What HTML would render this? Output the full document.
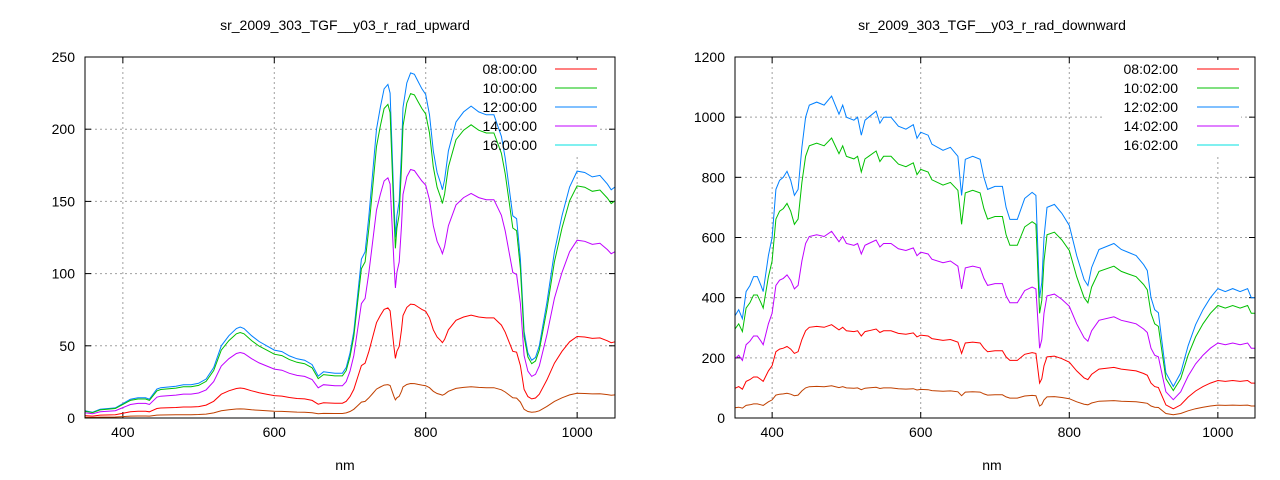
<!DOCTYPE html>
<html><head><meta charset="utf-8"><style>
body{margin:0;background:#fff}
svg{display:block;font-family:"Liberation Sans",sans-serif;font-size:14px}
</style></head><body>
<svg id="s" width="1280" height="480" xmlns="http://www.w3.org/2000/svg"></svg>
<script>
const s=document.getElementById('s');let h='';
function chart(o){
 const {x0,x1,y0,y1,ymax,ystep,title,cx,labs,key,lx,lt,scales}=o;
 const X=v=>x0+(v-350)*(x1-x0)/700, Y=v=>y1-v*(y1-y0)/ymax;
 h+=`<text x="${cx}" y="30" text-anchor="middle">${title}</text>`;
 h+=`<text x="${cx}" y="470" text-anchor="middle">nm</text>`;
 for(let v=0;v<=ymax;v+=ystep){const y=Y(v);
  if(v>0&&v<ymax)h+=`<line x1="${x0}" x2="${x1}" y1="${y}" y2="${y}" stroke="#a0a0a0" stroke-dasharray="2,3"/>`;
  h+=`<line x1="${x0}" x2="${x0+6}" y1="${y}" y2="${y}" stroke="#000"/><line x1="${x1-6}" x2="${x1}" y1="${y}" y2="${y}" stroke="#000"/>`;
  h+=`<text x="${x0-10}" y="${y+5}" text-anchor="end">${v}</text>`;}
 for(let v=400;v<=1000;v+=200){const x=X(v);
  h+=`<line x1="${x}" x2="${x}" y1="${y0}" y2="${y1}" stroke="#a0a0a0" stroke-dasharray="2,3"/>`;
  h+=`<line x1="${x}" x2="${x}" y1="${y1}" y2="${y1-6}" stroke="#000"/><line x1="${x}" x2="${x}" y1="${y0}" y2="${y0+6}" stroke="#000"/>`;
  h+=`<text x="${x}" y="${y1+19}" text-anchor="middle">${v}</text>`;}
 h+=`<rect x="${lt-75}" y="60" width="${lx+44-lt+75}" height="95" fill="#fff"/>`;
 const cols=[['#0080ff',1],['#00c000',scales[0]],['#c000ff',scales[1]],['#ff0000',scales[2]],['#c04000',scales[3]]];
 const lc=['#ff0000','#00c000','#0080ff','#c000ff','#00e0e0'];
 cols.forEach(([c,k])=>{let d='';labs.forEach((p,i)=>{d+=(i?'L':'M')+X(p[0]).toFixed(1)+','+Y(p[1]*k).toFixed(1)});
  h+=`<path d="${d}" fill="none" stroke="${c}" stroke-width="1"/>`;});
 key.forEach((t,i)=>{const y=69+i*19;
  h+=`<text x="${lt}" y="${y+5}" text-anchor="end">${t}</text><line x1="${lx}" x2="${lx+42}" y1="${y}" y2="${y}" stroke="${lc[i]}"/>`;});
 h+=`<rect x="${x0}" y="${y0}" width="${x1-x0}" height="${y1-y0}" fill="none" stroke="#000"/>`;
}
const L=[[350,5],[360,4],[370,6],[390,7],[400,10],[410,13],[420,14],[430,14],[435,13],[445,20],[450,21],[470,22],[480,23],[490,23],[500,24],[510,27],[520,35],[530,50],[540,57],[550,62],[555,63],[560,62],[570,57],[580,53],[590,50],[600,47],[610,46],[620,43],[630,41],[640,40],[650,37],[658,29],[665,32],[680,31],[690,31],[695,35],[700,45],[705,60],[710,85],[715,110],[720,115],[725,140],[730,170],[735,200],[740,215],[745,228],[750,231],[753,225],[758,150],[760,125],[762,140],[765,150],[768,185],[770,215],[775,232],[780,239],[785,238],[790,233],[795,228],[800,224],[805,210],[810,185],[815,170],[820,162],[822,158],[825,165],[830,185],[840,205],[850,212],[860,216],[870,212],[880,210],[890,210],[900,195],[905,180],[910,160],[915,140],[920,138],[925,110],[930,60],[935,45],[940,40],[945,42],[950,50],[960,80],[970,115],[980,140],[990,160],[1000,171],[1010,170],[1020,167],[1030,168],[1040,162],[1045,158],[1050,160]];
const R=[[350,340],[355,360],[360,330],[365,420],[370,440],[375,470],[380,470],[385,440],[388,420],[395,540],[400,600],[405,760],[410,790],[415,800],[420,820],[425,790],[430,740],[435,760],[440,900],[445,1000],[450,1040],[460,1050],[470,1040],[480,1070],[490,1010],[495,1040],[500,1000],[510,990],[515,1000],[520,940],[525,990],[530,1000],[540,1020],[545,980],[550,1000],[560,1000],[570,970],[580,960],[590,975],[595,930],[600,950],[610,940],[615,910],[630,890],[640,900],[650,870],[655,740],[660,860],[670,870],[680,860],[685,800],[690,760],[700,770],[710,770],[715,700],[720,660],[730,660],[740,730],[750,750],[755,740],[760,400],[763,450],[766,600],[770,700],[780,710],[790,680],[800,640],[810,540],[820,460],[825,440],[830,500],[840,560],[860,580],[870,560],[880,550],[890,540],[900,510],[905,490],[910,400],[915,360],[920,350],[925,250],[930,150],[940,105],[950,150],[960,240],[970,310],[980,360],[990,400],[1000,430],[1010,420],[1020,430],[1030,420],[1040,430],[1045,400],[1050,400]];
chart({x0:85,x1:615,y0:57,y1:418,ymax:250,ystep:50,title:'sr_2009_303_TGF__y03_r_rad_upward',cx:345,labs:L,key:['08:00:00','10:00:00','12:00:00','14:00:00','16:00:00'],lx:555,lt:537,scales:[0.94,0.72,0.33,0.1]});
chart({x0:735,x1:1255,y0:57,y1:418,ymax:1200,ystep:200,title:'sr_2009_303_TGF__y03_r_rad_downward',cx:992,labs:R,key:['08:02:00','10:02:00','12:02:00','14:02:00','16:02:00'],lx:1197,lt:1178,scales:[0.87,0.58,0.29,0.1]});
s.innerHTML=h;
</script>
</body></html>
